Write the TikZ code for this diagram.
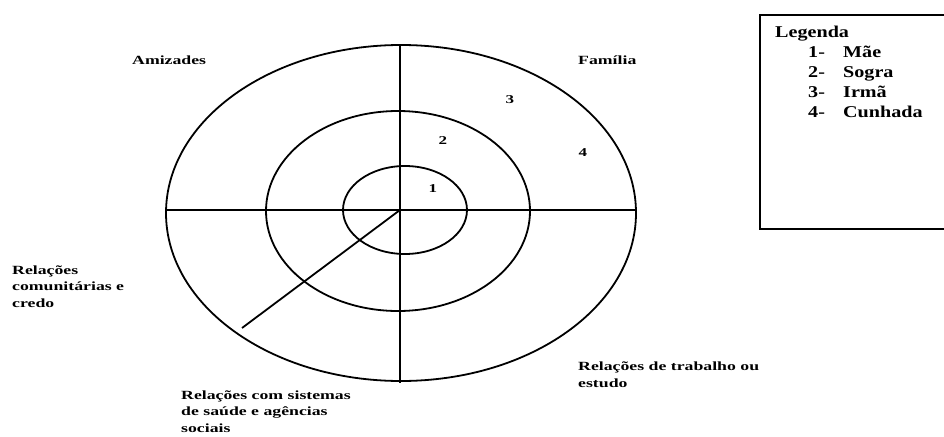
\documentclass[tikz,border=0pt]{standalone}
\usepackage{fontspec}
\setmainfont{Liberation Serif}
\newfontfamily\lblfont[FakeStretch=1.42]{Liberation Serif}
\newfontfamily\legfont[FakeStretch=1.22]{Liberation Serif}
\begin{document}
\begin{tikzpicture}[x=1pt,y=-1pt,
  ring/.style={draw=black,line width=1.8pt},
  axis/.style={draw=black,line width=1.8pt},
  lbl/.style={inner sep=0pt,font=\lblfont\bfseries\fontsize{12.5}{16.5}\selectfont,align=left},
  num/.style={inner sep=0pt,font=\lblfont\bfseries\fontsize{12}{14}\selectfont},
  leg/.style={inner sep=0pt,font=\legfont\bfseries\fontsize{16.5}{20}\selectfont,align=left}]
\useasboundingbox[fill=white] (0,0) rectangle (944,436);
% rings
\draw[ring] (401,213) ellipse [x radius=235, y radius=168];
\draw[ring] (398,211) ellipse [x radius=132, y radius=100];
\draw[ring] (405,210) ellipse [x radius=62, y radius=44];
% axes
\coordinate (c) at (400,210);
\coordinate (top) at (400,46);
\coordinate (bot) at (400,383);
\coordinate (lft) at (167,210);
\coordinate (rgt) at (637,210);
\coordinate (diag) at (242,328);
\draw[axis] (top) -- (bot);
\draw[axis] (lft) -- (rgt);
\draw[axis] (c) -- (diag);
% sector labels
\node[lbl,anchor=base west] (amiz) at (132,64) {Amizades};
\node[lbl,anchor=base west] (fam) at (578,64) {Família};
\node[lbl,anchor=base west] (comu) at (12,307) {Relações\\comunitárias e\\credo};
\node[lbl,anchor=base west] (saude) at (181,432) {Relações com sistemas\\de saúde e agências\\sociais};
\node[lbl,anchor=base west] (trab) at (578,387) {Relações de trabalho ou\\estudo};
% numbers
\node[num] (n1) at (433,189) {1};
\node[num] (n2) at (443,141) {2};
\node[num] (n3) at (510,100) {3};
\node[num] (n4) at (583,153) {4};
% legend
\draw[line width=2pt] (944,15) -- (760,15) -- (760,229) -- (944,229);
\node[leg,anchor=base west] (legend) at (775,117) {Legenda\\
\hspace{33pt}\makebox[35pt][l]{1-}Mãe\\
\hspace{33pt}\makebox[35pt][l]{2-}Sogra\\
\hspace{33pt}\makebox[35pt][l]{3-}Irmã\\
\hspace{33pt}\makebox[35pt][l]{4-}Cunhada};
\end{tikzpicture}
\end{document}
